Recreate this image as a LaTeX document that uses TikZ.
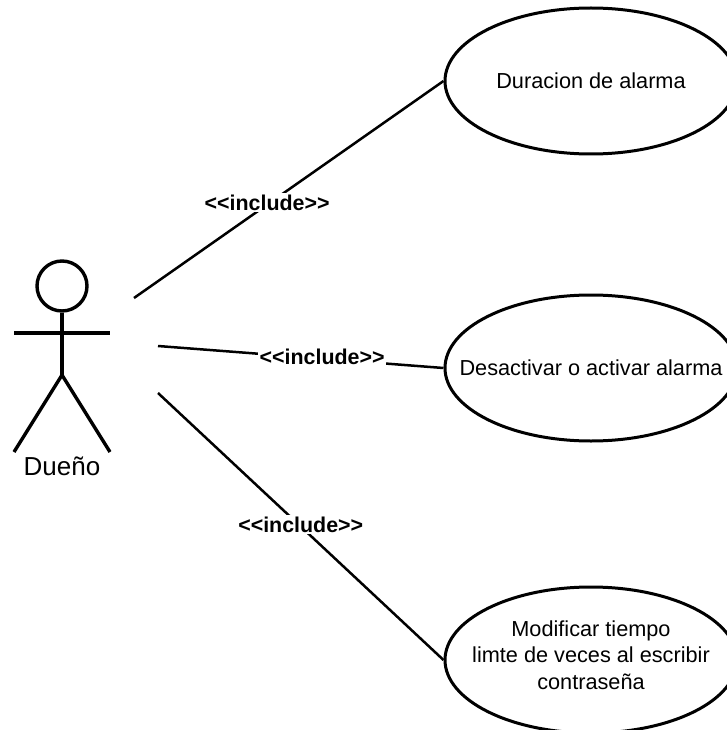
\documentclass[tikz,border=0pt]{standalone}
\usepackage{fontspec}
\setmainfont{Liberation Sans}
\tikzstyle{usecase}=[draw,ellipse,line width=3pt,minimum width=292pt,minimum height=146pt,inner sep=0pt]
\tikzstyle{usetext}=[inner sep=0pt,align=center,font=\fontsize{21.7pt}{26.5pt}\selectfont]
\tikzstyle{actorline}=[draw,line width=3.4pt]
\tikzstyle{inclabel}=[fill=white,inner sep=0.5mm,yshift=2pt,font=\fontsize{21.4pt}{24pt}\selectfont\bfseries]
\usetikzlibrary{shapes.geometric}
\newcommand{\drawincludes}[1]{
	\foreach \a/\b/\c in {#1}{
		\draw[line width=2.5pt] (\a) -- node[inclabel,pos=\c] {{<}{<}include{>}{>}} (\b);
	}
}
\begin{document}
\begin{tikzpicture}[x=1pt,y=-1pt]
\useasboundingbox (0,0) rectangle (726,730);
% use cases
\node[usecase,label={[usetext]center:Duracion de alarma}] (u1) at (591,81) {};
\node[usecase,label={[usetext]center:Desactivar o activar alarma}] (u2) at (591,368) {};
\node[usecase,label={[usetext,yshift=5pt]center:Modificar tiempo\\limte de veces al escribir\\contraseña}] (u3) at (591,660) {};
% actor
\node[circle,actorline,minimum size=50pt,inner sep=0pt] (head) at (62,286) {};
\coordinate (hip) at (62,375);
\coordinate (armL) at (14,333);
\coordinate (armR) at (110,333);
\coordinate (footL) at (14,452);
\coordinate (footR) at (110,452);
\path[actorline] (head.south) -- (hip);
\path[actorline] (armL) -- (armR);
\path[actorline] (footL) -- (hip) -- (footR);
\node[font=\fontsize{26pt}{30pt}\selectfont] (owner) at (62,466) {Dueño};
% connectors
\coordinate (s1) at (134,298);
\coordinate (s2) at (158,346);
\coordinate (s3) at (158,393);
\drawincludes{s1/u1.west/0.43,s2/u2.west/0.575,s3/u3.west/0.50}
\end{tikzpicture}
\end{document}
